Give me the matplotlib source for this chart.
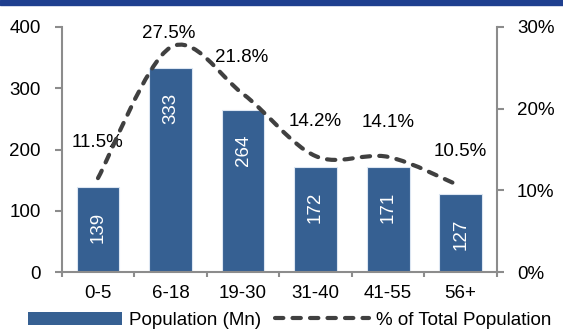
import matplotlib
matplotlib.use('Agg')
from matplotlib import pyplot as plt
from matplotlib.path import Path
from matplotlib.patches import PathPatch, Patch, Rectangle
from matplotlib.lines import Line2D

# 数据
ages = ['0-5', '6-18', '19-30', '31-40', '41-55', '56+']
population = [139, 333, 264, 172, 171, 127]
share = [11.5, 27.5, 21.8, 14.2, 14.1, 10.5]

plt.rcParams['font.family'] = ['Liberation Sans', 'DejaVu Sans']
plt.rcParams['font.size'] = 13.5

bar_color = '#366092'
line_color = '#404040'
spine_color = '#8c8c8c'

fig = plt.figure(figsize=(5.63, 3.29), dpi=100)
ax = fig.add_axes([0.1096, 0.173, 0.773, 0.745])
ax2 = ax.twinx()

# 顶部蓝条
fig.patches.append(Rectangle((0, 0.985), 1, 0.015, transform=fig.transFigure,
                             color='#1f3f8f', zorder=0))

x = list(range(len(ages)))
ax.bar(x, population, width=0.59, color=bar_color, edgecolor='#dce6f2',
       linewidth=0.8, zorder=2)
ax.set_ylim(0, 400)
ax.set_xlim(-0.5, len(ages) - 0.5)
ax.set_yticks([0, 100, 200, 300, 400])
ax.set_xticks(x)
ax.set_xticklabels(ages)
ax.set_xticks([i - 0.5 for i in range(len(ages) + 1)], minor=True)
ax.tick_params(axis='x', which='major', length=0, pad=9)
ax.tick_params(axis='x', which='minor', length=3.6, width=1.5, color=spine_color)
ax.tick_params(axis='y', length=5, width=1.5, color=spine_color, pad=10)

for i, v in enumerate(population):
    ax.annotate(str(v), (i, v), xytext=(0, -29), textcoords='offset points',
                ha='center', va='center', rotation=90, color='white', zorder=3)

# 平滑曲线 (Catmull-Rom -> Bezier)
pts = list(zip(x, share))
verts = [pts[0]]
codes = [Path.MOVETO]
for i in range(len(pts) - 1):
    p0 = pts[i - 1] if i > 0 else pts[i]
    p1 = pts[i]
    p2 = pts[i + 1]
    p3 = pts[i + 2] if i + 2 < len(pts) else pts[i + 1]
    c1 = (p1[0] + (p2[0] - p0[0]) / 6, p1[1] + (p2[1] - p0[1]) / 6)
    c2 = (p2[0] - (p3[0] - p1[0]) / 6, p2[1] - (p3[1] - p1[1]) / 6)
    verts += [c1, c2, p2]
    codes += [Path.CURVE4] * 3
dash = (0, (2.0, 2.2))
curve = PathPatch(Path(verts, codes), facecolor='none', edgecolor=line_color,
                  linewidth=3.0, linestyle=dash, capstyle='round', zorder=4)
ax2.add_patch(curve)
ax2.set_ylim(0, 30)
ax2.set_yticks([0, 10, 20, 30])
ax2.set_yticklabels(['0%', '10%', '20%', '30%'])
ax2.tick_params(axis='y', length=5, width=1.5, color=spine_color, pad=9.5)

offsets = [(0, 26), (-1, 10), (-1, 26), (0, 25), (0, 25), (0, 25)]
for i, v in enumerate(share):
    ax2.annotate(f'{v}%', (i, v), xytext=offsets[i], textcoords='offset points',
                 ha='center', va='center', annotation_clip=False)

for a in (ax, ax2):
    a.spines['top'].set_visible(False)
    for s in ('left', 'right', 'bottom'):
        a.spines[s].set_color(spine_color)
        a.spines[s].set_linewidth(1.5)
ax.spines['right'].set_visible(False)
ax2.spines['left'].set_visible(False)
ax2.spines['bottom'].set_visible(False)

handles = [Patch(facecolor=bar_color, edgecolor='none'),
           Line2D([], [], color=line_color, linewidth=3.0,
                  linestyle=dash, dash_capstyle='round')]
fig.legend(handles, ['Population (Mn)', '% of Total Population'],
           loc='center', bbox_to_anchor=(0.515, 0.027), ncol=2,
           frameon=False, handlelength=5.0, handletextpad=0.37,
           columnspacing=0.75, handleheight=0.7, borderpad=0)

plt.savefig('out.png', dpi=100)
